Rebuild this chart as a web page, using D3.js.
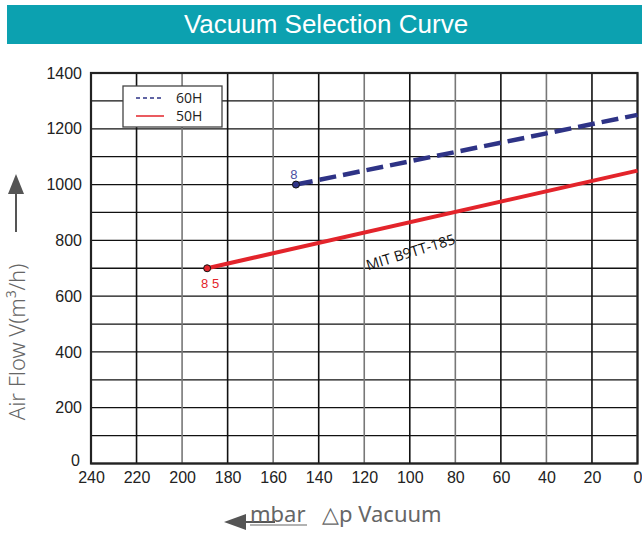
<!DOCTYPE html>
<html><head><meta charset="utf-8">
<script src="https://cdn.jsdelivr.net/npm/d3@7"></script>
<style>body{margin:0;background:#fff}svg{display:block}</style>
</head><body>
<svg id="c" width="642" height="534"></svg>
<script>
const xTicks = [240,220,200,180,160,140,120,100,80,60,40,20,0];
const yTicks = [0,200,400,600,800,1000,1200,1400];
const seriesNames = ["60H","50H"];
const mbar60 = [150, 0];
const flow60 = [1000, 1250];
const mbar50 = [189, 0];
const flow50 = [700, 1050];
const pointLabels = ["8", "8 5"];
const modelLabel = "MIT B9TT-185";

const svg = d3.select("#c");
const L=91,R=637.5,T=73,B=463.5;
const x = d3.scaleLinear().domain([240,0]).range([L,R]);
const y = d3.scaleLinear().domain([0,1400]).range([B,T]);
const sans = "'Liberation Sans',Arial,sans-serif";

// banner
svg.append("rect").attr("x",7).attr("y",5).attr("width",635).attr("height",39).attr("fill","#0ca1b0");
svg.append("text").attr("x",326).attr("y",33).attr("text-anchor","middle").attr("fill","#fff")
  .attr("font-family",sans).attr("font-size",26).text("Vacuum Selection Curve");

// grid
const g = svg.append("g");
d3.range(0,1401,100).forEach(v=>{
  g.append("line").attr("x1",L).attr("x2",R).attr("y1",y(v)).attr("y2",y(v)).attr("stroke","#111").attr("stroke-width",1.3);
});
xTicks.forEach((v,i)=>{
  g.append("line").attr("x1",x(v)).attr("x2",x(v)).attr("y1",T).attr("y2",B)
   .attr("stroke", i%2===1 ? "#111" : "#777").attr("stroke-width",1.6);
});
g.append("rect").attr("x",L).attr("y",T).attr("width",R-L).attr("height",B-T).attr("fill","none").attr("stroke","#222").attr("stroke-width",2.2);

// axes
const xa = svg.append("g").attr("transform",`translate(0,${B})`).call(d3.axisBottom(x).tickValues(xTicks).tickSize(0).tickPadding(6).tickFormat(d3.format("d")));
xa.select(".domain").remove();
xa.selectAll("text").attr("font-family",sans).attr("font-size",16).attr("fill","#222").attr("dy","0.85em");
const ya = svg.append("g").attr("transform",`translate(${L},0)`).call(d3.axisLeft(y).tickValues(yTicks).tickSize(0).tickPadding(9).tickFormat(d3.format("d")));
ya.select(".domain").remove();
ya.selectAll("text").attr("font-family",sans).attr("font-size",16).attr("fill","#222");
ya.selectAll("text").filter(d=>d===0).attr("dy","0.1em").attr("x",-11);

// lines
const line = d3.line().x(d=>x(d[0])).y(d=>y(d[1]));
const d60 = mbar60.map((m,i)=>[m,flow60[i]]);
const d50 = mbar50.map((m,i)=>[m,flow50[i]]);
svg.append("path").attr("d",line(d60)).attr("fill","none").attr("stroke","#2e3386").attr("stroke-width",4.5).attr("stroke-dasharray","17,7");
svg.append("path").attr("d",line(d50)).attr("fill","none").attr("stroke","#e3242b").attr("stroke-width",4);
svg.append("circle").attr("cx",x(mbar60[0])).attr("cy",y(flow60[0])).attr("r",3.5).attr("fill","#2e3386").attr("stroke","#111").attr("stroke-width",1);
svg.append("circle").attr("cx",x(mbar50[0])).attr("cy",y(flow50[0])).attr("r",3.5).attr("fill","#e3242b").attr("stroke","#111").attr("stroke-width",1);
svg.append("text").attr("x",x(mbar60[0])-2).attr("y",y(flow60[0])-6).attr("text-anchor","middle").attr("fill","#4b4fa0")
  .attr("font-family",sans).attr("font-size",13).text(pointLabels[0]);
svg.append("text").attr("x",x(mbar50[0])+3).attr("y",y(flow50[0])+20).attr("text-anchor","middle").attr("fill","#e3242b")
  .attr("font-family",sans).attr("font-size",13).attr("xml:space","preserve").text(pointLabels[1]);
svg.append("text").attr("transform",`translate(${x(99)},${y(740)}) rotate(-17)`).attr("text-anchor","middle")
  .attr("font-family","'Open Sans',sans-serif").attr("font-size",14.5).attr("fill","#111").text(modelLabel);

// legend
const lg = svg.append("g");
lg.append("rect").attr("x",123).attr("y",86).attr("width",99).attr("height",41).attr("fill","#fff").attr("stroke","#444").attr("stroke-width",1.3);
[["#2e3386","4,3"],["#e3242b",null]].forEach((s,i)=>{
  const yy = 98+i*18;
  lg.append("line").attr("x1",136).attr("x2",164).attr("y1",yy).attr("y2",yy).attr("stroke",s[0]).attr("stroke-width",1.5).attr("stroke-dasharray",s[1]);
  lg.append("text").attr("x",176).attr("y",yy+5).attr("font-family","'Open Sans',sans-serif").attr("font-size",14).attr("fill","#222").text(seriesNames[i]);
});

// y label
svg.append("text").attr("transform","translate(25,342) rotate(-90)").attr("text-anchor","middle")
  .attr("font-family","'Noto Sans',sans-serif").attr("font-size",22).attr("font-weight",300).attr("fill","#666").text("Air Flow V(m³/h)");
svg.append("line").attr("x1",16).attr("x2",16).attr("y1",232).attr("y2",192).attr("stroke","#555").attr("stroke-width",2);
svg.append("path").attr("d","M8,194 L16,174 L24,194 Z").attr("fill","#555");

// x label
svg.append("line").attr("x1",240).attr("x2",275).attr("y1",522).attr("y2",522).attr("stroke","#555").attr("stroke-width",2);
svg.append("path").attr("d","M224,522 L246,514 L246,530 Z").attr("fill","#555");
svg.append("text").attr("x",250).attr("y",522).attr("font-family","'Noto Sans',sans-serif").attr("font-size",22).attr("fill","#666").text("mbar");
svg.append("line").attr("x1",250).attr("x2",307).attr("y1",525).attr("y2",525).attr("stroke","#666").attr("stroke-width",1.2);
svg.append("text").attr("x",322).attr("y",522).attr("font-family","'Noto Sans',sans-serif").attr("font-size",22).attr("fill","#666").text("△p Vacuum");
</script>
</body></html>
